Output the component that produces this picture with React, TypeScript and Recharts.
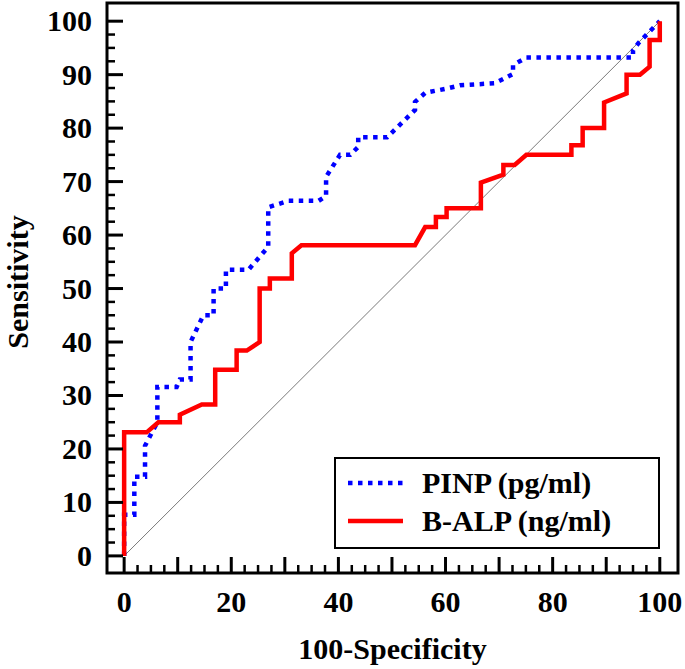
import React from 'react';
import { LineChart, Line, XAxis, YAxis, ReferenceArea, Legend } from 'recharts';

// ROC curve points: [100-Specificity, Sensitivity]
const pinpCurve: number[][] = [
  [0, 0], [0, 7.7], [1.9, 7.7], [1.9, 14.8], [3.9, 14.8], [3.9, 20.6], [6.2, 25], [6.2, 31.6],
  [9.8, 31.6], [10.4, 33], [12.4, 33], [12.4, 40], [14.8, 45], [16.7, 45], [16.7, 50], [19, 50],
  [19, 53.5], [23.2, 53.5], [26.9, 57.8], [26.9, 65.2], [30.7, 66.4], [36.3, 66.4], [37.7, 67.3],
  [37.7, 70.9], [40.3, 75], [42.2, 75], [43.7, 76.5], [43.7, 78.3], [49.1, 78.3], [54.3, 83.4],
  [54.3, 84.9], [56.2, 86.6], [60.2, 87.4], [62.7, 88], [69.2, 88.4], [72.6, 90.1], [72.6, 91.8],
  [75.1, 93.2], [95, 93.2], [95, 94.5], [96, 95.9], [100, 100],
];

const balpCurve: number[][] = [
  [0, 0], [0, 23.1], [4.2, 23.1], [6.4, 25], [10.4, 25], [10.4, 26.4], [14.5, 28.3], [17, 28.3],
  [17, 34.8], [21, 34.8], [21, 38.4], [22.9, 38.4], [25.3, 40], [25.3, 50], [27.2, 50], [27.2, 51.9],
  [31.3, 51.9], [31.3, 56.6], [33.1, 58.1], [54.3, 58.1], [56.2, 61.5], [58.2, 61.5], [58.2, 63.4],
  [60.2, 63.4], [60.2, 65], [66.6, 65], [66.6, 69.8], [70.8, 71.3], [70.8, 73.1], [72.9, 73.1],
  [75.1, 75], [83.5, 75], [83.5, 76.8], [85.6, 76.8], [85.6, 80], [89.6, 80], [89.6, 84.8],
  [93.8, 86.5], [93.8, 90], [96.3, 90], [98.1, 91.5], [98.1, 96.5], [100, 96.5], [100, 100],
];

const diagonal: number[][] = [[0, 0], [100, 100]];

const seriesNames = ['PINP (pg/ml)', 'B-ALP (ng/ml)'];

const axisTicks = [
  0, 2.5, 5, 7.5, 10, 12.5, 15, 17.5, 20, 22.5, 25, 27.5, 30, 32.5, 35, 37.5, 40, 42.5, 45, 47.5,
  50, 52.5, 55, 57.5, 60, 62.5, 65, 67.5, 70, 72.5, 75, 77.5, 80, 82.5, 85, 87.5, 90, 92.5, 95, 97.5, 100,
];
const xLabelTicks = [0, 20, 40, 60, 80, 100];
const yLabelTicks = [0, 10, 20, 30, 40, 50, 60, 70, 80, 90, 100];

const domain: [number, number] = [-3.2, 103.4];

const FONT = '"Liberation Serif", "Times New Roman", serif';
const FS = 30;

const toData = (pts: number[][]) => pts.map(([x, y]) => ({ x, y }));

const isMajor = (v: number) => Math.abs(v % 10) < 1e-6;

const XTick = (props: any) => {
  const { x, y, payload } = props;
  const v = payload.value;
  const major = isMajor(v);
  return (
    <g>
      <line x1={x} x2={x} y1={y} y2={y - (major ? 16 : 8)} stroke="#000" strokeWidth={major ? 3 : 2.5} />
      {xLabelTicks.includes(v) && (
        <text x={x} y={y + 39} textAnchor="middle" fontFamily={FONT} fontWeight="bold" fontSize={FS} fill="#000">
          {v}
        </text>
      )}
    </g>
  );
};

const YTick = (props: any) => {
  const { x, y, payload } = props;
  const v = payload.value;
  const major = isMajor(v);
  return (
    <g>
      <line x1={x} x2={x + (major ? 16 : 8)} y1={y} y2={y} stroke="#000" strokeWidth={major ? 3 : 2.5} />
      {yLabelTicks.includes(v) && (
        <text x={x - 15} y={y + 10} textAnchor="end" fontFamily={FONT} fontWeight="bold" fontSize={FS} fill="#000">
          {v}
        </text>
      )}
    </g>
  );
};

const YLabel = (props: any) => {
  const vb = props.viewBox || {};
  const cx = 28;
  const cy = vb.y + vb.height / 2 - 6;
  return (
    <text
      x={cx}
      y={cy}
      transform={`rotate(-90, ${cx}, ${cy})`}
      textAnchor="middle"
      fontFamily={FONT}
      fontWeight="bold"
      fontSize={30}
      fill="#000"
    >
      Sensitivity
    </text>
  );
};

const renderLegend = (props: any) => {
  const items = (props.payload || [])
    .filter((p: any) => p.type !== 'none' && seriesNames.includes(p.value))
    .slice()
    .sort((a: any, b: any) => seriesNames.indexOf(a.value) - seriesNames.indexOf(b.value));
  return (
    <div
      style={{
        width: 326,
        height: 92,
        border: '2px solid #000',
        boxSizing: 'border-box',
        background: '#fff',
      }}
    >
      <svg width={322} height={88} style={{ display: 'block' }}>
        {items.map((it: any, i: number) => {
          const cy = 24 + i * 38;
          return (
            <g key={i}>
              <line
                x1={12}
                x2={67}
                y1={cy}
                y2={cy}
                stroke={it.color}
                strokeWidth={4.5}
                strokeDasharray={it.payload?.strokeDasharray}
              />
              <text x={86} y={cy + 10} fontFamily={FONT} fontWeight="bold" fontSize={FS} fill="#000">
                {it.value}
              </text>
            </g>
          );
        })}
      </svg>
    </div>
  );
};

export default function App() {
  return (
    <div style={{ position: 'absolute', left: 0, top: 0, background: '#fff' }}>
      <LineChart width={685} height={669} margin={{ top: 3, right: 7, bottom: 0, left: 47 }}>
        <XAxis
          dataKey="x"
          type="number"
          domain={domain}
          allowDataOverflow
          ticks={axisTicks}
          interval={0}
          tick={<XTick />}
          tickSize={0}
          tickMargin={0}
          tickLine={false}
          axisLine={false}
          height={96}
          label={{
            value: '100-Specificity',
            position: 'insideBottom',
            offset: 10,
            style: { fontFamily: FONT, fontWeight: 'bold', fontSize: FS, fill: '#000' },
          }}
        />
        <YAxis
          dataKey="y"
          type="number"
          domain={domain}
          allowDataOverflow
          ticks={axisTicks}
          interval={0}
          tick={<YTick />}
          tickSize={0}
          tickMargin={0}
          tickLine={false}
          axisLine={false}
          width={60}
          label={<YLabel />}
        />
        <ReferenceArea x1={domain[0]} x2={domain[1]} y1={domain[0]} y2={domain[1]} fill="none" fillOpacity={0} stroke="#000" strokeWidth={3} />
        <Line
          data={toData(diagonal)}
          dataKey="y"
          stroke="#7a7a7a"
          strokeWidth={1}
          dot={false}
          legendType="none"
          isAnimationActive={false}
        />
        <Line
          data={toData(pinpCurve)}
          dataKey="y"
          name={seriesNames[0]}
          stroke="#0000ff"
          strokeWidth={4.5}
          strokeDasharray="4.5 5.5"
          dot={false}
          type="linear"
          isAnimationActive={false}
        />
        <Line
          data={toData(balpCurve)}
          dataKey="y"
          name={seriesNames[1]}
          stroke="#ff0000"
          strokeWidth={4.5}
          dot={false}
          type="linear"
          isAnimationActive={false}
        />
        <Legend
          layout="vertical"
          align="center"
          verticalAlign="middle"
          itemSorter={null as any}
          content={renderLegend}
          wrapperStyle={{ position: 'absolute', left: 334, top: 457, width: 326, height: 92 }}
        />
      </LineChart>
    </div>
  );
}
